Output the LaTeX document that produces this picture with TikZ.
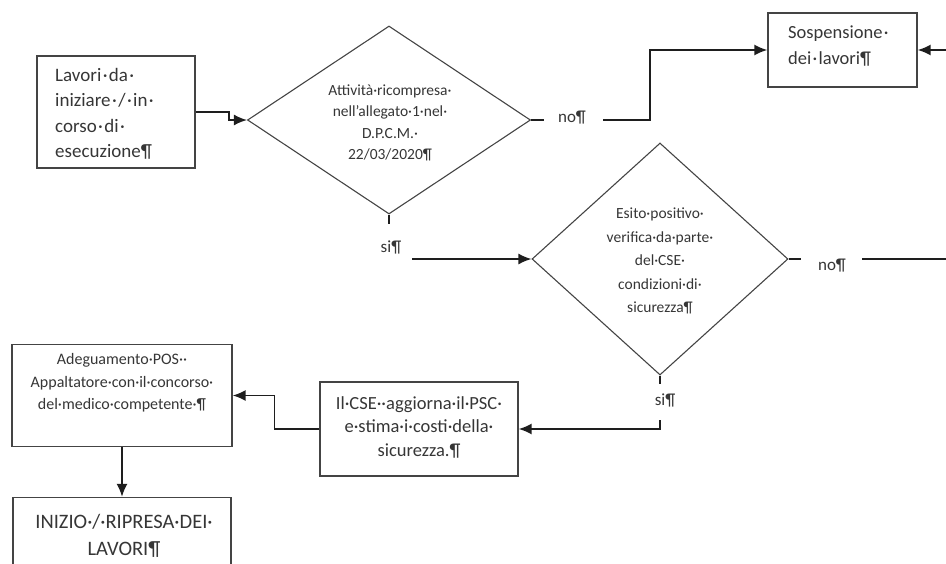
\documentclass[tikz,border=0pt]{standalone}
\usepackage{fontspec}
\setmainfont{Carlito}
\usetikzlibrary{arrows.meta,shapes.geometric}
\definecolor{ink}{HTML}{363636}
\definecolor{edgec}{HTML}{444444}
\definecolor{linec}{HTML}{1e1e1e}
\newcommand{\lavdot}{\makebox[0.4em]{·}}
\begin{document}
\begin{tikzpicture}[x=1pt,y=-1pt,
  boxn/.style={draw=edgec, line width=1.3pt, rectangle, inner sep=0pt},
  dia/.style={draw=edgec, line width=1.1pt, diamond, inner sep=0pt},
  txt/.style={inner sep=0pt, text=ink, align=center},
  lbl/.style={txt, font={\fontsize{17}{20}\selectfont}},
  ln/.style={draw=linec, line width=1.7pt},
  arr/.style={ln, -{Latex[length=13pt,width=11pt]}}]
\useasboundingbox (0,0) rectangle (946,563);

% shapes
\node[boxn, minimum width=158pt, minimum height=112pt] (lav) at (116,112) {};
\node[dia, minimum width=283pt, minimum height=188pt] (d1) at (389,120) {};
\node[boxn, minimum width=149pt, minimum height=74pt] (sosp) at (842.5,50) {};
\node[dia, minimum width=256pt, minimum height=232pt] (d2) at (660,259) {};
\node[boxn, minimum width=220pt, minimum height=102pt] (adeg) at (122,395.5) {};
\node[boxn, minimum width=198pt, minimum height=94pt] (cse) at (419,429) {};
\node[boxn, minimum width=218pt, minimum height=103pt] (ini) at (122,549) {};

% texts
\node[txt, align=left, anchor=west, font={\fontsize{19}{25.5}\selectfont}] (tlav) at (55,114)
  {Lavori\lavdot da\lavdot\\iniziare\lavdot/\lavdot in\lavdot\\corso\lavdot di\lavdot\\esecuzione¶};
\node[txt, font={\fontsize{15.5}{21.5}\selectfont}] (td1) at (390,123)
  {Attività·ricompresa·\\nell'allegato·1·nel·\\D.P.C.M.·\\22/03/2020¶};
\node[txt, align=left, anchor=west, font={\fontsize{18.5}{26}\selectfont}] (tsosp) at (788,46)
  {Sospensione\lavdot\\dei\lavdot lavori¶};
\node[txt, font={\fontsize{15.5}{23.5}\selectfont}] (td2) at (660,261)
  {Esito·positivo·\\verifica·da·parte·\\del·CSE·\\condizioni·di·\\sicurezza¶};
\node[txt, font={\fontsize{16}{22.5}\selectfont}] (tadeg) at (122,383)
  {Adeguamento·POS··\\Appaltatore·con·il·concorso·\\del·medico·competente·¶};
\node[txt, font={\fontsize{18.5}{23.5}\selectfont}] (tcse) at (419,427)
  {Il·CSE··aggiorna·il·PSC·\\e·stima·i·costi·della·\\sicurezza.¶};
\node[txt, font={\fontsize{20.5}{27}\selectfont}] (tini) at (124,535.5)
  {INIZIO·/·RIPRESA·DEI·\\LAVORI¶};

% connector labels
\node[lbl] (no1) at (572,118) {no¶};
\node[lbl] (si1) at (391,247) {si¶};
\node[lbl] (no2) at (832,266) {no¶};
\node[lbl] (si2) at (665,400) {si¶};

\coordinate (no1out) at (603,120);
\coordinate (si1out) at (412,259);
\coordinate (no2out) at (862,259);
\coordinate (si2out) at (660,420);

% connectors
\draw[arr] (lav.east) -- ++(33,0) |- (d1.west);
\draw[ln] (d1.east) -- ++(13,0);
\draw[arr] (no1out) -- ++(47,0) |- (sosp.west);
\draw[ln] (d1.south) -- ++(0,9);
\draw[arr] (si1out) -- (d2.west);
\draw[ln] (d2.east) -- ++(12,0);
\draw[arr] (no2out) -- ++(98,0) |- (sosp.east);
\draw[ln] (d2.south) -- ++(0,8);
\draw[arr] (si2out) |- (cse.east);
\draw[arr] (cse.west) -- ++(-45,0) |- (adeg.east);
\draw[arr] (adeg.south) -- (ini.north);
\end{tikzpicture}
\end{document}
